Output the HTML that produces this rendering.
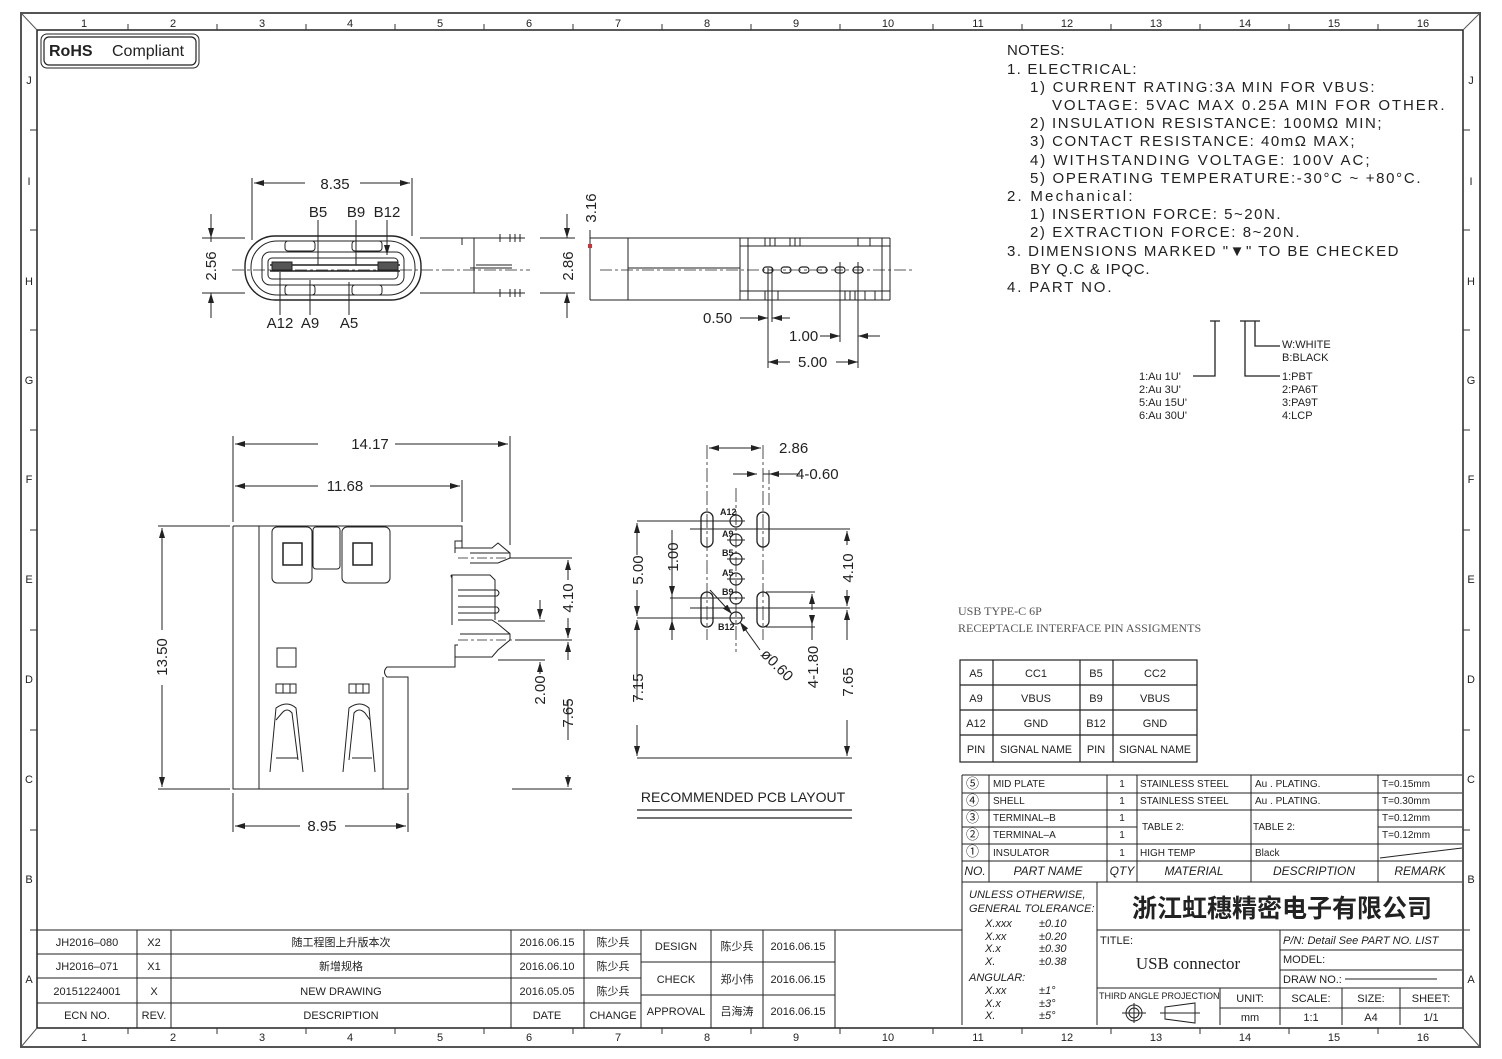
<!DOCTYPE html>
<html><head><meta charset="utf-8"><style>
html,body{margin:0;padding:0;background:#fff;}
svg{display:block;}
text{font-family:"Liberation Sans","Noto Sans CJK SC",sans-serif;fill:#222;}
.n{font-size:15px;}
.d{font-size:15px;}
.s{font-size:11px;}
.t{font-size:11px;}
</style></head><body>
<svg width="1502" height="1059" viewBox="0 0 1502 1059" xmlns="http://www.w3.org/2000/svg">
<defs>
<marker id="a" viewBox="0 0 10 6" refX="10" refY="3" markerWidth="10" markerHeight="6" orient="auto-start-reverse" markerUnits="userSpaceOnUse"><path d="M0,0 L10,3 L0,6z" fill="#222"/></marker>
</defs>
<rect width="1502" height="1059" fill="#fff"/>
<g stroke="#555" fill="none">
<path d="M21,13 H1480 V1047 H21 Z" stroke-width="2"/>
<path d="M37,30 H1463 V1028 H37 Z" stroke="#222" stroke-width="1.5"/>
<path d="M21,13 L37,30 M1480,13 L1463,30 M21,1047 L37,1028 M1480,1047 L1463,1028" stroke-width="1"/>
</g>
<g stroke="#333" stroke-width="1">
<path d="M128,24 V30 M217,24 V30 M306,24 V30 M395,24 V30 M484,24 V30 M573,24 V30 M662,24 V30 M751,24 V30 M840,24 V30 M933,24 V30 M1022,24 V30 M1111,24 V30 M1200,24 V30 M1289,24 V30 M1378,24 V30"/>
<path d="M128,1028 V1034 M217,1028 V1034 M306,1028 V1034 M395,1028 V1034 M484,1028 V1034 M573,1028 V1034 M662,1028 V1034 M751,1028 V1034 M840,1028 V1034 M933,1028 V1034 M1022,1028 V1034 M1111,1028 V1034 M1200,1028 V1034 M1289,1028 V1034 M1378,1028 V1034"/>
<path d="M30,130 H37 M30,230 H37 M30,330 H37 M30,430 H37 M30,530 H37 M30,630 H37 M30,730 H37 M30,830 H37 M30,930 H37"/>
<path d="M1463,130 H1470 M1463,230 H1470 M1463,330 H1470 M1463,430 H1470 M1463,530 H1470 M1463,630 H1470 M1463,730 H1470 M1463,830 H1470 M1463,930 H1470"/>
</g>
<g class="s" text-anchor="middle" font-size="11">
<text x="84" y="27">1</text><text x="173" y="27">2</text><text x="262" y="27">3</text><text x="350" y="27">4</text><text x="440" y="27">5</text><text x="529" y="27">6</text><text x="618" y="27">7</text><text x="707" y="27">8</text><text x="796" y="27">9</text><text x="888" y="27">10</text><text x="978" y="27">11</text><text x="1067" y="27">12</text><text x="1156" y="27">13</text><text x="1245" y="27">14</text><text x="1334" y="27">15</text><text x="1423" y="27">16</text>
<text x="84" y="1041">1</text><text x="173" y="1041">2</text><text x="262" y="1041">3</text><text x="350" y="1041">4</text><text x="440" y="1041">5</text><text x="529" y="1041">6</text><text x="618" y="1041">7</text><text x="707" y="1041">8</text><text x="796" y="1041">9</text><text x="888" y="1041">10</text><text x="978" y="1041">11</text><text x="1067" y="1041">12</text><text x="1156" y="1041">13</text><text x="1245" y="1041">14</text><text x="1334" y="1041">15</text><text x="1423" y="1041">16</text>
<text x="29" y="84">J</text><text x="29" y="185">I</text><text x="29" y="285">H</text><text x="29" y="384">G</text><text x="29" y="483">F</text><text x="29" y="583">E</text><text x="29" y="683">D</text><text x="29" y="783">C</text><text x="29" y="883">B</text><text x="29" y="983">A</text>
<text x="1471" y="84">J</text><text x="1471" y="185">I</text><text x="1471" y="285">H</text><text x="1471" y="384">G</text><text x="1471" y="483">F</text><text x="1471" y="583">E</text><text x="1471" y="683">D</text><text x="1471" y="783">C</text><text x="1471" y="883">B</text><text x="1471" y="983">A</text>
</g>
<rect x="41" y="34" width="158" height="34" rx="6" fill="none" stroke="#222" stroke-width="1"/>
<rect x="44" y="37" width="152" height="28" rx="5" fill="none" stroke="#222" stroke-width="1.2"/>
<text x="49" y="56" font-size="16" font-weight="bold">RoHS</text><text x="112" y="56" font-size="16">Compliant</text>

<g class="n" font-size="15" letter-spacing="0.5">
<text x="1007" y="55" textLength="58">NOTES:</text>
<text x="1007" y="74" textLength="130">1. ELECTRICAL:</text>
<text x="1030" y="92" textLength="345">1) CURRENT RATING:3A MIN FOR VBUS:</text>
<text x="1052" y="110" textLength="393">VOLTAGE: 5VAC MAX 0.25A MIN FOR OTHER.</text>
<text x="1030" y="128" textLength="352">2) INSULATION RESISTANCE: 100MΩ MIN;</text>
<text x="1030" y="146" textLength="325">3) CONTACT RESISTANCE: 40mΩ MAX;</text>
<text x="1030" y="165" textLength="340">4) WITHSTANDING VOLTAGE: 100V AC;</text>
<text x="1030" y="183" textLength="391">5) OPERATING TEMPERATURE:-30°C ~ +80°C.</text>
<text x="1007" y="201" textLength="126">2. Mechanical:</text>
<text x="1030" y="219" textLength="251">1) INSERTION FORCE: 5~20N.</text>
<text x="1030" y="237" textLength="270">2) EXTRACTION FORCE: 8~20N.</text>
<text x="1007" y="256" textLength="392">3. DIMENSIONS MARKED "▼" TO BE CHECKED</text>
<text x="1030" y="274" textLength="120">BY Q.C &amp; IPQC.</text>
<text x="1007" y="292" textLength="105">4. PART NO.</text>
</g>
<g stroke="#222" stroke-width="1.3" fill="none">
<path d="M1210,321 H1220 M1215,321 V376 H1193"/>
<path d="M1240,321 H1250 M1245,321 V376 H1280"/>
<path d="M1250,321 H1260 M1255,321 V346 H1280"/>
</g>
<g font-size="11">
<text x="1282" y="348">W:WHITE</text><text x="1282" y="361">B:BLACK</text>
<text x="1282" y="380">1:PBT</text><text x="1282" y="393">2:PA6T</text><text x="1282" y="406">3:PA9T</text><text x="1282" y="419">4:LCP</text>
<text x="1139" y="380">1:Au  1U'</text><text x="1139" y="393">2:Au  3U'</text><text x="1139" y="406">5:Au  15U'</text><text x="1139" y="419">6:Au  30U'</text>
</g>

<g stroke="#222" fill="none" stroke-width="1">
<rect x="245" y="236" width="176" height="64" rx="30" stroke-width="1.4"/>
<rect x="251" y="241" width="164" height="54" rx="26"/>
<rect x="262" y="252" width="142" height="33" rx="8"/>
<rect x="268" y="258" width="130" height="21" rx="4"/>
<path d="M270,265 H400 M270,271 H400" stroke-width="1.6"/>
<path d="M272,262 H292 V270 H272Z M378,262 H398 V270 H378Z" fill="#555"/>
<rect x="285" y="241" width="30" height="10" rx="3"/><rect x="352" y="241" width="30" height="10" rx="3"/>
<rect x="285" y="285" width="30" height="10" rx="3"/><rect x="352" y="285" width="30" height="10" rx="3"/>
<path d="M420,238 H525 M420,293 H525 M474,238 V293 M476,265 H512 M470,268 H512"/>
<path d="M462,238 V245 M500,234 V242 M510,234 V242 M515,234 V242 M520,234 V242 M500,289 V297 M510,289 V297 M515,289 V297 M520,289 V297"/>
<path d="M232,270 H530" stroke-dasharray="12 3 3 3" stroke-width="0.8"/>
<path d="M252,178 V240 M412,178 V236"/>
<path d="M254,183 H305 M360,183 H410" marker-start="url(#a)" marker-end="url(#a)"/>
<path d="M202,238 H245 M202,293 H245"/>
<path d="M211,214 V238" marker-end="url(#a)"/><path d="M211,318 V293" marker-end="url(#a)"/><path d="M211,238 V242"/>
<path d="M318,220 V265 M356,220 V265 M387,220 V255" marker-end="url(#a)"/>
<path d="M280,315 V272 M310,315 V280 M349,315 V282"/>
<path d="M540,238 H575 M540,293 H575"/>
<path d="M567,214 V238" marker-end="url(#a)"/><path d="M567,318 V293" marker-end="url(#a)"/>
<path d="M590,230 V300"/>
</g>
<g class="d" font-size="15">
<text x="335" y="189" text-anchor="middle">8.35</text>
<text x="318" y="217" text-anchor="middle">B5</text><text x="356" y="217" text-anchor="middle">B9</text><text x="387" y="217" text-anchor="middle">B12</text>
<text x="280" y="328" text-anchor="middle">A12</text><text x="310" y="328" text-anchor="middle">A9</text><text x="349" y="328" text-anchor="middle">A5</text>
<text transform="translate(216,266) rotate(-90)" text-anchor="middle">2.56</text>
<text transform="translate(573,266) rotate(-90)" text-anchor="middle">2.86</text>
<text transform="translate(596,208) rotate(-90)" text-anchor="middle">3.16</text>
</g>
<g stroke="#222" fill="none" stroke-width="1">
<path d="M590,238 H890 M590,300 H890 M628,238 V300 M740,238 V300 M628,268 H740"/>
<path d="M600,270 H912" stroke-dasharray="12 3 3 3" stroke-width="0.8"/>
<path d="M740,246 H890 M740,291 H890 M748,238 V300 M882,238 V300 M890,238 V300"/>
<path d="M765,238 V246 M770,238 V246 M775,238 V246 M790,238 V246 M795,238 V246 M800,238 V246 M858,238 V246 M870,238 V246 M765,291 V300 M778,291 V300 M845,291 V300 M850,291 V300 M855,291 V300 M865,291 V300 M875,291 V300"/>
<g stroke-width="1.2"><rect x="763" y="267" width="10" height="6" rx="3"/><rect x="781" y="267" width="10" height="6" rx="3"/><rect x="799" y="267" width="10" height="6" rx="3"/><rect x="817" y="267" width="10" height="6" rx="3"/><rect x="835" y="267" width="10" height="6" rx="3"/><rect x="853" y="267" width="10" height="6" rx="3"/></g>
<path d="M768,268 V368 M772,268 V322 M840,262 V342 M858,262 V368"/>
<path d="M740,318 H768" marker-end="url(#a)"/><path d="M790,318 H772" marker-end="url(#a)"/>
<path d="M820,336 H840" marker-end="url(#a)"/><path d="M880,336 H858" marker-end="url(#a)"/>
<path d="M790,362 H768" marker-end="url(#a)"/><path d="M836,362 H858" marker-end="url(#a)"/>
</g>
<rect x="588" y="244" width="4" height="4" fill="#c33"/>
<g font-size="15"><text x="703" y="323">0.50</text><text x="789" y="341">1.00</text><text x="798" y="367">5.00</text></g>

<g stroke="#222" fill="none" stroke-width="1">
<path d="M233,526 H462 V541 H455 V548 H492 L498,543 L510,553 V558 L498,563 H470 M470,553 H510 M455,548 V553" />
<path d="M233,526 V789 H408 V677 H387 Q382,672 387,667 H455 V657"/>
<path d="M259,526 V789"/>
<path d="M455,657 H492 L498,650 L510,640 V634 L498,624 L492,620 H458 M460,634 H510 M455,657 V645 H458"/>
<path d="M452,575 H490 L495,580 V620 M452,575 V625 M452,575 Q450,575 452,578"/>
<path d="M458,590 H497 Q501,593 497,596 H458 M458,607 H497 Q501,610 497,613 H458 M458,620 H492"/>
<path d="M383,677 V789"/>
<path d="M462,541 V548"/>
<rect x="272" y="527" width="40" height="56" rx="5"/><rect x="313" y="527" width="27" height="42" rx="3"/><rect x="342" y="527" width="48" height="56" rx="5"/>
<rect x="283" y="543" width="19" height="22" stroke-width="1.5"/><rect x="353" y="543" width="19" height="22" stroke-width="1.5"/>
<rect x="277" y="648" width="19" height="19"/>
<rect x="276" y="684" width="20" height="9"/><path d="M283,684 V693 M290,684 V693"/>
<rect x="349" y="684" width="20" height="9"/><path d="M356,684 V693 M363,684 V693"/>
<path d="M270,772 L276,708 Q287,700 296,708 L303,772 M276,720 L282,713 Q287,707 292,713 L298,760 M276,758 H298"/>
<path d="M343,772 L349,708 Q360,700 369,708 L375,772 M349,760 L354,713 Q359,707 365,713 L370,720 M352,758 H372"/>
<path d="M233,436 V522 M510,436 V545 M462,480 V522 M408,793 V832 M233,793 V832"/>
<path d="M318,444 H235" marker-end="url(#a)"/><path d="M395,444 H508" marker-end="url(#a)"/>
<path d="M318,486 H235" marker-end="url(#a)"/><path d="M370,486 H460" marker-end="url(#a)"/>
<path d="M300,826 H235" marker-end="url(#a)"/><path d="M345,826 H406" marker-end="url(#a)"/>
<path d="M158,526 H230 M158,789 H230"/>
<path d="M162,630 V528" marker-end="url(#a)"/><path d="M162,685 V787" marker-end="url(#a)"/>
<path d="M510,558 H572 M515,640 H572 M512,789 H572 M498,621 H545 M498,660 H545"/>
<path d="M568,580 V560" marker-end="url(#a)"/><path d="M568,618 V638" marker-end="url(#a)"/>
<path d="M568,660 V642" marker-end="url(#a)"/><path d="M568,775 V787" marker-end="url(#a)"/>
<path d="M568,700 V740"/>
<path d="M540,600 V619" marker-end="url(#a)"/><path d="M540,674 V662" marker-end="url(#a)"/>
<path d="M458,558 H530 M458,640 H530" stroke-dasharray="10 3 3 3" stroke-width="0.8"/>
</g>
<g font-size="15">
<text x="370" y="449" text-anchor="middle">14.17</text>
<text x="345" y="491" text-anchor="middle">11.68</text>
<text x="322" y="831" text-anchor="middle">8.95</text>
<text transform="translate(167,657) rotate(-90)" text-anchor="middle">13.50</text>
<text transform="translate(573,598) rotate(-90)" text-anchor="middle">4.10</text>
<text transform="translate(573,713) rotate(-90)" text-anchor="middle">7.65</text>
<text transform="translate(545,690) rotate(-90)" text-anchor="middle">2.00</text>
</g>

<g stroke="#222" fill="none" stroke-width="1">
<rect x="701" y="512" width="12" height="35" rx="6" stroke-width="1.3"/><rect x="701" y="592" width="12" height="35" rx="6" stroke-width="1.3"/>
<rect x="757" y="512" width="12" height="35" rx="6" stroke-width="1.3"/><rect x="757" y="592" width="12" height="35" rx="6" stroke-width="1.3"/>
<g stroke-width="1.2"><circle cx="736" cy="521" r="6"/><circle cx="736" cy="540" r="6"/><circle cx="736" cy="559" r="6"/><circle cx="736" cy="579" r="6"/><circle cx="736" cy="598" r="6"/><circle cx="736" cy="618" r="6"/></g>
<path d="M736,488 V652 M707,445 V640 M763,445 V640 M769,470 V505" stroke-dasharray="14 3 3 3" stroke-width="0.8"/>
<path d="M727,521 H745 M727,540 H745 M727,559 H745 M727,579 H745 M727,598 H745 M727,618 H745"/>
<path d="M690,529 H850 M690,608 H850"/>
<path d="M637,521 H736 M637,618 H736 M670,598 H736 M766,592 H815 M766,627 H815 M637,758 H852"/>
<path d="M740,448 H709" marker-end="url(#a)"/><path d="M740,448 H761" marker-end="url(#a)"/>
<path d="M733,474 H757" marker-end="url(#a)"/><path d="M782,474 H769" marker-end="url(#a)"/><path d="M763,474 H800"/>
<path d="M637,555 V523" marker-end="url(#a)"/><path d="M637,590 V616" marker-end="url(#a)"/>
<path d="M637,700 V620" marker-end="url(#a)"/><path d="M637,725 V756" marker-end="url(#a)"/>
<path d="M672,580 V596" marker-end="url(#a)"/><path d="M672,640 V620" marker-end="url(#a)"/><path d="M672,530 V640"/>
<path d="M847,545 V531" marker-end="url(#a)"/><path d="M847,590 V606" marker-end="url(#a)"/>
<path d="M847,640 V610" marker-end="url(#a)"/><path d="M847,720 V756" marker-end="url(#a)"/>
<path d="M812,610 V594" marker-end="url(#a)"/><path d="M812,615 V625" marker-end="url(#a)"/><path d="M812,625 V640"/>
<path d="M710,590 L732,614" marker-end="url(#a)"/><path d="M760,650 L740,622" marker-end="url(#a)"/>
<path d="M637,810 H852 M637,818 H852" stroke-width="1.3"/>
</g>
<g font-size="15">
<text x="779" y="453">2.86</text>
<text x="796" y="479">4-0.60</text>
<text transform="translate(643,570) rotate(-90)" text-anchor="middle">5.00</text>
<text transform="translate(678,557) rotate(-90)" text-anchor="middle">1.00</text>
<text transform="translate(643,688) rotate(-90)" text-anchor="middle">7.15</text>
<text transform="translate(853,568) rotate(-90)" text-anchor="middle">4.10</text>
<text transform="translate(853,682) rotate(-90)" text-anchor="middle">7.65</text>
<text transform="translate(818,667) rotate(-90)" text-anchor="middle">4-1.80</text>
<text transform="translate(760,655) rotate(45)">ø0.60</text>
<text x="743" y="802" text-anchor="middle" font-size="14">RECOMMENDED  PCB  LAYOUT</text>
</g>
<g font-size="9" font-weight="bold">
<text x="720" y="515">A12</text><text x="722" y="537">A9</text><text x="722" y="556">B5</text><text x="722" y="576">A5</text><text x="722" y="595">B9</text><text x="718" y="630">B12</text>
</g>

<text x="958" y="615" font-size="12" style="font-family:'Liberation Serif',serif;fill:#555">USB TYPE-C 6P</text>
<text x="958" y="632" font-size="12" style="font-family:'Liberation Serif',serif;fill:#555">RECEPTACLE INTERFACE PIN ASSIGMENTS</text>
<g stroke="#222" fill="none" stroke-width="1.2">
<rect x="960" y="660" width="237" height="102"/>
<path d="M960,685 H1197 M960,710 H1197 M960,735 H1197 M993,660 V762 M1080,660 V762 M1113,660 V762"/>
</g>
<g font-size="11" text-anchor="middle">
<text x="976" y="677">A5</text><text x="1036" y="677">CC1</text><text x="1096" y="677">B5</text><text x="1155" y="677">CC2</text>
<text x="976" y="702">A9</text><text x="1036" y="702">VBUS</text><text x="1096" y="702">B9</text><text x="1155" y="702">VBUS</text>
<text x="976" y="727">A12</text><text x="1036" y="727">GND</text><text x="1096" y="727">B12</text><text x="1155" y="727">GND</text>
<text x="976" y="753">PIN</text><text x="1036" y="753" textLength="72" lengthAdjust="spacingAndGlyphs">SIGNAL NAME</text><text x="1096" y="753">PIN</text><text x="1155" y="753" textLength="72" lengthAdjust="spacingAndGlyphs">SIGNAL NAME</text>
</g>

<g stroke="#222" fill="none" stroke-width="1">
<path d="M962,775 H1462 M962,793 H1462 M962,810 H1462 M962,844 H1462 M962,861 H1462 M962,882 H1462 M962,827 H1137 M1378,827 H1462"/>
<path d="M962,775 V1025 M989,775 V882 M1107,775 V882 M1137,775 V882 M1251,775 V882 M1378,775 V882"/>
<path d="M1380,858 L1462,848"/>
<path d="M1097,882 V1025 M1097,930 H1462 M1280,930 V1025 M1280,950 H1462 M1280,970 H1462 M1097,988 H1462 M1220,988 V1025 M1220,1008 H1462 M1342,988 V1025 M1400,988 V1025"/>
<path d="M1345,979 H1437"/>
<circle cx="1134" cy="1013" r="5"/><circle cx="1134" cy="1013" r="8"/><path d="M1122,1013 H1146 M1134,1003 V1023"/>
<path d="M1165,1007 L1195,1003 V1023 L1165,1019 Z M1160,1013 H1200"/>
</g>
<g font-size="10">
<text x="966" y="788" font-size="13">⑤</text><text x="966" y="805" font-size="13">④</text><text x="966" y="822" font-size="13">③</text><text x="966" y="839" font-size="13">②</text><text x="966" y="856" font-size="13">①</text>
<text x="993" y="787">MID PLATE</text><text x="993" y="804">SHELL</text><text x="993" y="821">TERMINAL–B</text><text x="993" y="838">TERMINAL–A</text><text x="993" y="856">INSULATOR</text>
<text x="1122" y="787" text-anchor="middle">1</text><text x="1122" y="804" text-anchor="middle">1</text><text x="1122" y="821" text-anchor="middle">1</text><text x="1122" y="838" text-anchor="middle">1</text><text x="1122" y="856" text-anchor="middle">1</text>
<text x="1140" y="787">STAINLESS STEEL</text><text x="1140" y="804">STAINLESS STEEL</text><text x="1142" y="830">TABLE  2:</text><text x="1140" y="856">HIGH TEMP</text>
<text x="1255" y="787">Au . PLATING.</text><text x="1255" y="804">Au . PLATING.</text><text x="1253" y="830">TABLE  2:</text><text x="1255" y="856">Black</text>
<text x="1382" y="787">T=0.15mm</text><text x="1382" y="804">T=0.30mm</text><text x="1382" y="821">T=0.12mm</text><text x="1382" y="838">T=0.12mm</text>
</g>
<g font-size="12" font-style="italic" text-anchor="middle">
<text x="975" y="875">NO.</text><text x="1048" y="875">PART NAME</text><text x="1122" y="875">QTY</text><text x="1194" y="875">MATERIAL</text><text x="1314" y="875">DESCRIPTION</text><text x="1420" y="875">REMARK</text>
</g>
<g font-size="11" font-style="italic">
<text x="969" y="898">UNLESS OTHERWISE,</text><text x="969" y="912">GENERAL TOLERANCE:</text>
<text x="985" y="927">X.xxx</text><text x="1039" y="927">±0.10</text>
<text x="985" y="940">X.xx</text><text x="1039" y="940">±0.20</text>
<text x="985" y="952">X.x</text><text x="1039" y="952">±0.30</text>
<text x="985" y="965">X.</text><text x="1039" y="965">±0.38</text>
<text x="969" y="981">ANGULAR:</text>
<text x="985" y="994">X.xx</text><text x="1039" y="994">±1°</text>
<text x="985" y="1007">X.x</text><text x="1039" y="1007">±3°</text>
<text x="985" y="1019">X.</text><text x="1039" y="1019">±5°</text>
</g>
<text x="1282" y="917" font-size="25" font-weight="bold" text-anchor="middle" style="font-family:'Noto Sans CJK SC','WenQuanYi Zen Hei',sans-serif">浙江虹穗精密电子有限公司</text>
<text x="1100" y="944" font-size="11">TITLE:</text>
<text x="1188" y="969" font-size="17" text-anchor="middle" style="font-family:'Liberation Serif',serif">USB  connector</text>
<g font-size="11"><text x="1283" y="944" font-style="italic">P/N: Detail  See  PART  NO.  LIST</text><text x="1283" y="963">MODEL:</text><text x="1283" y="983">DRAW  NO.:</text>
<text x="1099" y="999" font-size="9">THIRD ANGLE PROJECTION</text>
<g text-anchor="middle"><text x="1250" y="1002">UNIT:</text><text x="1250" y="1021">mm</text><text x="1311" y="1002">SCALE:</text><text x="1311" y="1021">1:1</text><text x="1371" y="1002">SIZE:</text><text x="1371" y="1021">A4</text><text x="1431" y="1002">SHEET:</text><text x="1431" y="1021">1/1</text></g></g>

<g stroke="#222" fill="none" stroke-width="1">
<path d="M37,930 H962 M37,954 H641 M37,978 H641 M37,1003 H641 M641,962 H835 M641,995 H835"/>
<path d="M137,930 V1028 M171,930 V1028 M511,930 V1028 M584,930 V1028 M641,930 V1028 M711,930 V1028 M763,930 V1028 M835,930 V1028"/>
</g>
<g font-size="11" text-anchor="middle">
<text x="87" y="946">JH2016–080</text><text x="154" y="946">X2</text><text x="341" y="946">随工程图上升版本次</text><text x="547" y="946">2016.06.15</text><text x="613" y="946">陈少兵</text>
<text x="87" y="970">JH2016–071</text><text x="154" y="970">X1</text><text x="341" y="970">新增规格</text><text x="547" y="970">2016.06.10</text><text x="613" y="970">陈少兵</text>
<text x="87" y="995">20151224001</text><text x="154" y="995">X</text><text x="341" y="995">NEW DRAWING</text><text x="547" y="995">2016.05.05</text><text x="613" y="995">陈少兵</text>
<text x="87" y="1019">ECN  NO.</text><text x="154" y="1019">REV.</text><text x="341" y="1019">DESCRIPTION</text><text x="547" y="1019">DATE</text><text x="613" y="1019">CHANGE</text>
<text x="676" y="950">DESIGN</text><text x="737" y="950">陈少兵</text><text x="798" y="950">2016.06.15</text>
<text x="676" y="983">CHECK</text><text x="737" y="983">郑小伟</text><text x="798" y="983">2016.06.15</text>
<text x="676" y="1015">APPROVAL</text><text x="737" y="1015">吕海涛</text><text x="798" y="1015">2016.06.15</text>
</g>
</svg>
</body></html>
